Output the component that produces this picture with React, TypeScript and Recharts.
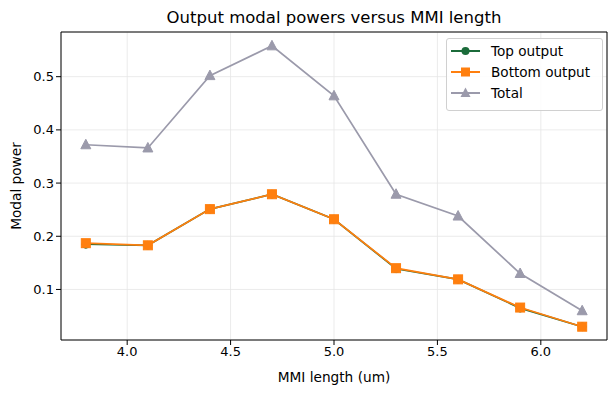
import React from 'react';
import {
  LineChart,
  Line,
  XAxis,
  YAxis,
  CartesianGrid,
  Label,
  ReferenceLine,
} from 'recharts';

const mmiLengths = [3.8, 4.1, 4.4, 4.7, 5.0, 5.3, 5.6, 5.9, 6.2];
const topOutput = [0.185, 0.183, 0.251, 0.279, 0.232, 0.139, 0.119, 0.065, 0.030];
const bottomOutput = [0.187, 0.183, 0.251, 0.279, 0.232, 0.140, 0.119, 0.066, 0.030];
const totalPower = [0.372, 0.366, 0.502, 0.558, 0.464, 0.279, 0.238, 0.130, 0.060];
const xTicks = [4.0, 4.5, 5.0, 5.5, 6.0];
const yTicks = [0.1, 0.2, 0.3, 0.4, 0.5];

const X_DOMAIN = [3.68, 6.32];
const Y_DOMAIN = [0.005, 0.584];

const data = mmiLengths.map((len, i) => ({
  len,
  top: topOutput[i],
  bottom: bottomOutput[i],
  total: totalPower[i],
}));

const GREEN = '#1b6b3a';
const ORANGE = '#ff7f0e';
const GREY = '#9b9aab';
const FONT = 'DejaVu Sans, sans-serif';

const CircleDot = (props: any) => {
  const { cx, cy } = props;
  if (cx == null || cy == null) return null;
  return <circle cx={cx} cy={cy} r={4} fill={GREEN} stroke={GREEN} />;
};

const SquareDot = (props: any) => {
  const { cx, cy } = props;
  if (cx == null || cy == null) return null;
  return <rect x={cx - 4.5} y={cy - 4.5} width={9} height={9} fill={ORANGE} stroke={ORANGE} strokeWidth={1} />;
};

const TriangleDot = (props: any) => {
  const { cx, cy } = props;
  if (cx == null || cy == null) return null;
  return (
    <polygon
      points={`${cx},${cy - 5.5} ${cx - 5},${cy + 4} ${cx + 5},${cy + 4}`}
      fill={GREY}
      stroke={GREY}
    />
  );
};

const legendItems = [
  { name: 'Top output', color: GREEN, marker: 'circle' },
  { name: 'Bottom output', color: ORANGE, marker: 'square' },
  { name: 'Total', color: GREY, marker: 'triangle' },
];

const LegendBox = () => (
  <div
    style={{
      position: 'absolute',
      left: 446,
      top: 38,
      width: 155,
      height: 71,
      border: '1px solid #d0d0d0',
      borderRadius: 3,
      background: 'rgba(255,255,255,0.85)',
      fontFamily: FONT,
      fontSize: 13.6,
      color: '#000',
    }}
  >
    {legendItems.map((it, i) => (
      <div
        key={it.name}
        style={{ position: 'absolute', left: 2, top: 3 + i * 21, height: 18, display: 'flex', alignItems: 'center' }}
      >
        <svg width={34} height={18}>
          <line x1={2} y1={9} x2={31} y2={9} stroke={it.color} strokeWidth={2} />
          {it.marker === 'circle' && <circle cx={16.5} cy={9} r={4} fill={it.color} />}
          {it.marker === 'square' && <rect x={12} y={4.5} width={9} height={9} fill={it.color} />}
          {it.marker === 'triangle' && (
            <polygon points="16.5,3.5 11.5,13 21.5,13" fill={it.color} />
          )}
        </svg>
        <span style={{ marginLeft: 8, whiteSpace: 'nowrap' }}>{it.name}</span>
      </div>
    ))}
  </div>
);

const YLabel = (props: any) => {
  const vb = props.viewBox || {};
  const cx = 16;
  const cy = vb.y + vb.height / 2;
  return (
    <text
      x={cx}
      y={cy}
      transform={`rotate(-90, ${cx}, ${cy})`}
      textAnchor="middle"
      dominantBaseline="central"
      fontSize={13.7}
      fontFamily={FONT}
      fill="#000"
    >
      Modal power
    </text>
  );
};

export default function App() {
  return (
    <div style={{ position: 'absolute', left: 0, top: 0, width: 613, height: 393, background: '#fff' }}>
      <LineChart
        width={613}
        height={393}
        data={data}
        margin={{ top: 32, right: 6, bottom: 0, left: 0 }}
        style={{ position: 'absolute', left: 0, top: 0 }}
      >
        <CartesianGrid stroke="#e6e6e6" strokeWidth={0.8} />
        <XAxis
          dataKey="len"
          type="number"
          domain={X_DOMAIN}
          ticks={xTicks}
          tickFormatter={(v: number) => v.toFixed(1)}
          height={53}
          tickSize={5}
          stroke="#000"
          tickLine={{ stroke: '#000' }}
          axisLine={{ stroke: '#000' }}
          tick={{ fill: '#000', fontSize: 13, fontFamily: FONT }}
          allowDataOverflow
        >
          <Label
            value="MMI length (um)"
            position="insideBottom"
            offset={11}
            style={{ fontSize: 13.7, fontFamily: FONT, fill: '#000' }}
          />
        </XAxis>
        <YAxis
          type="number"
          domain={Y_DOMAIN}
          ticks={yTicks}
          tickFormatter={(v: number) => v.toFixed(1)}
          width={61}
          tickSize={5}
          stroke="#000"
          tickLine={{ stroke: '#000' }}
          axisLine={{ stroke: '#000' }}
          tick={{ fill: '#000', fontSize: 13, fontFamily: FONT }}
          allowDataOverflow
        >
          <Label content={<YLabel />} />
        </YAxis>
        <ReferenceLine y={Y_DOMAIN[1]} stroke="#000" strokeWidth={1} />
        <ReferenceLine x={X_DOMAIN[1]} stroke="#000" strokeWidth={1} />
        <Line
          dataKey="top"
          stroke={GREEN}
          strokeWidth={1.7}
          dot={<CircleDot />}
          activeDot={false}
          isAnimationActive={false}
        />
        <Line
          dataKey="bottom"
          stroke={ORANGE}
          strokeWidth={1.7}
          dot={<SquareDot />}
          activeDot={false}
          isAnimationActive={false}
        />
        <Line
          dataKey="total"
          stroke={GREY}
          strokeWidth={1.7}
          dot={<TriangleDot />}
          activeDot={false}
          isAnimationActive={false}
        />
      </LineChart>
      <div
        style={{
          position: 'absolute',
          left: 61,
          width: 546,
          top: 10,
          lineHeight: 1,
          textAlign: 'center',
          fontFamily: FONT,
          fontSize: 16.5,
          color: '#000',
        }}
      >
        Output modal powers versus MMI length
      </div>
      <LegendBox />
    </div>
  );
}
